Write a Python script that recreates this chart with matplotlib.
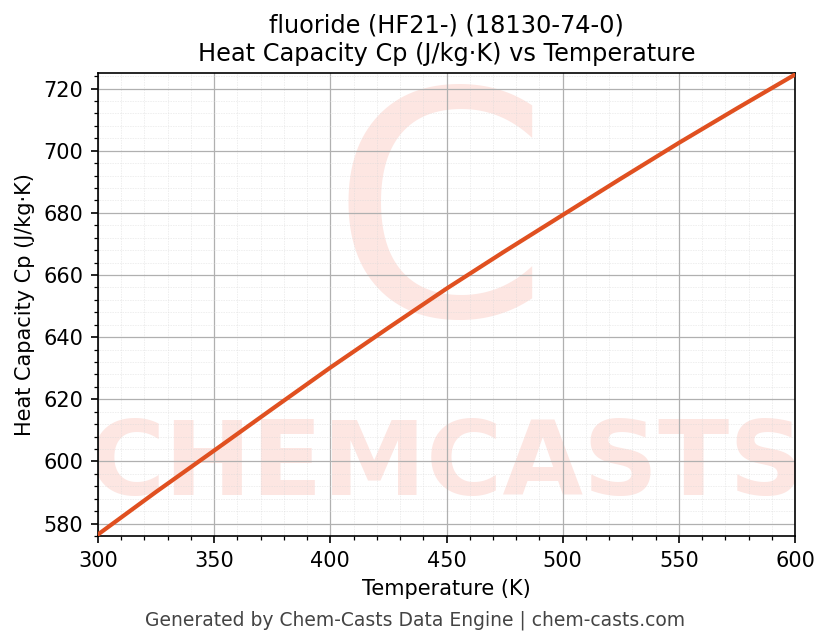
import numpy as np
import matplotlib.pyplot as plt
from matplotlib.ticker import MultipleLocator

# values
temps = [300, 325, 350, 375, 400, 425, 450, 475, 500, 525, 550, 575, 600]
cp = [576.5, 590.2, 603.5, 616.9, 630.2, 643.0, 655.6, 667.6, 679.3, 691.0, 702.5, 713.6, 724.5]

fig = plt.figure(figsize=(830 / 150, 644 / 150), dpi=150)
ax = fig.add_axes([98 / 830, 1 - 536 / 644, 697 / 830, 463 / 644])

# watermark
ax.text(0.5, 0.15, "CHEMCASTS", transform=ax.transAxes, ha="center", va="center",
        fontsize=50, fontweight="bold", color="#fde6e2", zorder=0, clip_on=True)
ax.text(0.49, 0.66, "C", transform=ax.transAxes, ha="center", va="center",
        fontsize=150, color="#fde6e2", zorder=0, clip_on=True)

ax.plot(temps, cp, color="#e05020", linewidth=2, zorder=3)

ax.set_xlim(300, 600)
ax.set_ylim(576, 725)
ax.xaxis.set_major_locator(MultipleLocator(50))
ax.xaxis.set_minor_locator(MultipleLocator(10))
ax.yaxis.set_major_locator(MultipleLocator(20))
ax.yaxis.set_minor_locator(MultipleLocator(4))
ax.grid(which="major", color="#b0b0b0", linewidth=0.6)
ax.grid(which="minor", color="#d8d8d8", linewidth=0.3, linestyle=":")

ax.set_xlabel("Temperature (K)")
ax.set_ylabel("Heat Capacity Cp (J/kg·K)")
ax.set_title("fluoride (HF21-) (18130-74-0)\nHeat Capacity Cp (J/kg·K) vs Temperature", fontsize=11.5)
fig.text(0.5, 0.028, "Generated by Chem-Casts Data Engine | chem-casts.com",
         ha="center", fontsize=9, color="#444444")

fig.savefig("out.png", dpi=150)
